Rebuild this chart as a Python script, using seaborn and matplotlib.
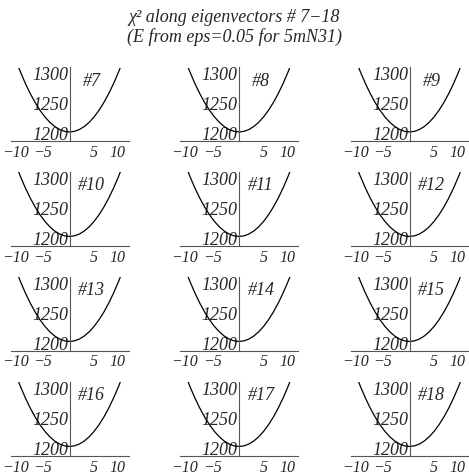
import matplotlib
matplotlib.use('Agg')
import matplotlib.pyplot as plt
import matplotlib.transforms as mtransforms
import seaborn as sns

# eigenvector numbers, one panel each
eig_ids = [7, 8, 9, 10, 11, 12, 13, 14, 15, 16, 17, 18]

# step along the eigenvector and chi^2 (all panels look the same)
t_vals = [-12, -11, -10, -9, -8, -7, -6, -5, -4, -3, -2, -1, 0,
          1, 2, 3, 4, 5, 6, 7, 8, 9, 10, 11, 12]
chi2_vals = [1347, 1324, 1303, 1284, 1267, 1252, 1239, 1228, 1219, 1212, 1207, 1204, 1203,
             1204, 1207, 1212, 1219, 1228, 1239, 1252, 1267, 1284, 1303, 1324, 1347]

x_ticks = [-10, -5, 5, 10]
y_ticks = [1200, 1250, 1300]

title_1 = 'χ² along eigenvectors # 7−18'
title_2 = '(E from eps=0.05 for 5mN31)'

sns.set_style('white')
plt.rcParams['font.family'] = ['Liberation Serif', 'DejaVu Serif']
plt.rcParams['font.style'] = 'italic'

W, H = 469, 475
fig = plt.figure(figsize=(W / 100, H / 100), dpi=100)

# pixel positions of the y axis (per column) and x axis (per row)
col_x = [69.5, 239, 409.5]
row_y = [141, 245.5, 350.5, 455.5]
ax_w, ax_h = 118, 73.5
xlim = (-12, 12)
ylim = (1188, 1310)
# small horizontal nudges of the x labels, in pixels
x_lab_shift = {-10: -5, -5: -2, 5: 0, 10: -1}

for i, eid in enumerate(eig_ids):
    r, c = divmod(i, 3)
    left = (col_x[c] - ax_w / 2) / W
    bottom = 1 - row_y[r] / H
    ax = fig.add_axes([left, bottom, ax_w / W, ax_h / H])
    ax.patch.set_alpha(0)
    sns.lineplot(x=t_vals, y=chi2_vals, ax=ax, color='black', linewidth=0.9)
    ax.set_xlim(*xlim)
    ax.set_ylim(*ylim)
    for s in ['top', 'right']:
        ax.spines[s].set_visible(False)
    ax.spines['left'].set_position(('data', 0))
    for s in ['left', 'bottom']:
        ax.spines[s].set_color('#555555')
        ax.spines[s].set_linewidth(0.8)
    ax.set_xticks(x_ticks)
    ax.set_yticks(y_ticks)
    ax.set_yticklabels([str(v) for v in y_ticks], fontstyle='italic', fontsize=13)
    ax.tick_params(direction='in', length=3, width=0.6, color='#555555', pad=1)
    ax.tick_params(axis='x', labelbottom=False)
    for v in x_ticks:
        tr = mtransforms.offset_copy(ax.get_xaxis_transform(), fig=fig,
                                     x=x_lab_shift[v], y=-4, units='dots')
        ax.text(v, 0, str(v).replace('-', '−'), transform=tr, ha='center', va='top',
                fontsize=11.5, fontstyle='italic')
    ax.set_xlabel('')
    ax.set_ylabel('')
    ax.text(4.5, 1287, f'#{eid}', ha='center', va='center', fontsize=13,
            fontstyle='italic')

fig.text(0.5, 1 - 17 / H, title_1, ha='center', va='center', fontsize=13,
         fontstyle='italic')
fig.text(0.5, 1 - 37 / H, title_2, ha='center', va='center', fontsize=13,
         fontstyle='italic')

fig.savefig('out.png', dpi=100)
